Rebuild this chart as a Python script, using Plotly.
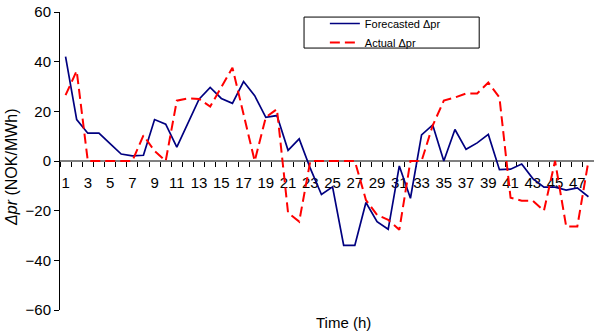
import plotly.graph_objects as go

hours = list(range(1, 49))
forecast = [42, 16.7, 11.2, 11.2, 7, 2.8, 2.1, 2.3, 16.7, 14.8,
            5.6, 15, 24.9, 29.6, 25.2, 23.2, 32, 26.3, 17.6, 18.3,
            4.3, 8.9, -3, -13.5, -10.4, -34, -34, -16.7, -24.4, -27.5,
            -2, -15, 10.5, 14.5, 0, 12.7, 4.7, 7.3, 10.7, -3.5,
            -3.3, -1.2, -7.1, -10.5, -10.5, -11.7, -10.8, -14.4]
actual = [26.5, 36.3, 0, 0, 0, 0, 0, 10.3, 4, 0,
          24.3, 25.2, 25, 21.9, 29.7, 37.6, 18.8, 0, 17.6, 20.9,
          -20.9, -24.4, 0, 0, 0, 0, 0, -15.7, -21.7, -23.7,
          -27.7, 0, 0, 14.3, 24.3, 25.6, 27.2, 27.2, 31.6, 25.6,
          -14.8, -16, -16, -20, 0, -26.4, -26.4, 0]
tick_hours = list(range(1, 49, 2))
y_ticks = [-60, -40, -20, 0, 20, 40, 60]

FONT = "Liberation Sans, Arial, sans-serif"

fig = go.Figure()
fig.add_trace(go.Scatter(x=hours, y=forecast, mode="lines", name="Forecasted Δpr",
                         line=dict(color="#000080", width=1.7)))
fig.add_trace(go.Scatter(x=hours, y=actual, mode="lines", name="Actual Δpr",
                         line=dict(color="#FF0000", width=2, dash="10px,5px")))

fig.update_layout(
    width=594, height=332,
    margin=dict(l=60, r=0, t=12, b=22),
    plot_bgcolor="white", paper_bgcolor="white",
    font=dict(family=FONT, size=15, color="black"),
    showlegend=True,
    legend=dict(x=0.496, y=1.01, xanchor="left", yanchor="top",
                borderwidth=0, bgcolor="rgba(0,0,0,0)",
                font=dict(size=11, family=FONT), tracegroupgap=0),
    shapes=[dict(type="rect", xref="paper", yref="paper",
                 x0=0.457, x1=0.785, y0=0.879, y1=0.983,
                 line=dict(color="black", width=1), fillcolor="rgba(0,0,0,0)",
                 layer="above")],
    xaxis=dict(range=[0.5, 48.5], anchor="free", position=0.5,
               layer="below traces",
               tickmode="array", tickvals=tick_hours,
               ticktext=[str(h) for h in tick_hours],
               ticks="outside", ticklen=8, tickcolor="rgba(0,0,0,0)",
               showline=True, linecolor="#808080", linewidth=2,
               showgrid=False, zeroline=False,
               tickfont=dict(size=15),
               minor=dict(tickmode="linear", tick0=0.5, dtick=1,
                          ticks="outside", ticklen=5, tickcolor="black",
                          tickwidth=1, showgrid=False)),
    yaxis=dict(range=[-60, 60], tickmode="array", tickvals=y_ticks,
               layer="below traces",
               ticks="outside", ticklen=5, tickcolor="black",
               showline=True, linecolor="black", linewidth=1,
               showgrid=False, zeroline=False, tickfont=dict(size=15)),
    annotations=[
        dict(text="Time (h)", xref="paper", yref="paper", x=0.53, y=0,
             xanchor="center", yanchor="middle", yshift=-12, showarrow=False,
             font=dict(size=15)),
        dict(text="<i>Δpr</i> (NOK/MWh)", xref="paper", yref="paper", x=0, y=0.48,
             xanchor="center", yanchor="middle", xshift=-48, textangle=-90,
             showarrow=False, font=dict(size=16)),
    ],
)

fig.write_html("out.html")
